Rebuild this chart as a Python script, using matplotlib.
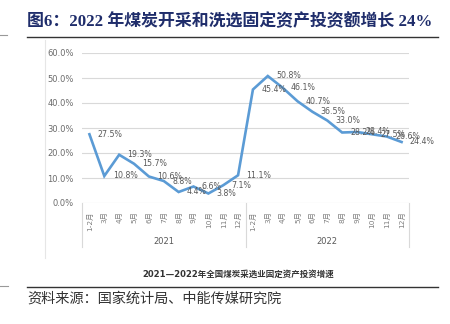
import matplotlib
matplotlib.use("Agg")
import matplotlib.pyplot as plt
from matplotlib.lines import Line2D
import matplotlib.transforms as mtransforms

plt.rcParams['font.family'] = ['DejaVu Sans', 'Noto Sans CJK SC']

# Monthly cumulative growth of fixed-asset investment in coal mining & washing (%)
months = ["1-2月", "3月", "4月", "5月", "6月", "7月", "8月", "9月", "10月", "11月", "12月"]
years = ["2021", "2022"]
growth_2021 = [27.5, 10.8, 19.3, 15.7, 10.6, 8.8, 4.4, 6.6, 3.8, 7.1, 11.1]
growth_2022 = [45.4, 50.8, 46.1, 40.7, 36.5, 33.0, 28.2, 28.4, 27.5, 26.6, 24.4]
y_ticks = [0, 10, 20, 30, 40, 50, 60]

title = "图6：2022 年煤炭开采和洗选固定资产投资额增长 24%"
caption = "2021—2022年全国煤炭采选业固定资产投资增速"
source = "资料来源：国家统计局、中能传媒研究院"

W, H = 450, 324
fig = plt.figure(figsize=(W / 100, H / 100), dpi=100)

def fx(px):
    return px / W

def fy(py):
    return 1 - py / H

values = growth_2021 + growth_2022
labels = months + months
xs = list(range(len(values)))

ax = fig.add_axes([fx(82), fy(203), fx(409) - fx(82), fy(53) - fy(203)])
ax.set_xlim(-0.5, len(values) - 0.5)
ax.set_ylim(0, 60)
for s in ax.spines.values():
    s.set_visible(False)

ax.set_yticks(y_ticks)
ax.set_yticklabels([f"{v:.1f}%" for v in y_ticks], fontsize=6, color="#6B6B6B")
ax.tick_params(axis="y", length=0, pad=6)
for v in y_ticks:
    ax.axhline(v, color="#D9D9D9", lw=0.8, zorder=0)

ax.set_xticks(xs)
ax.set_xticklabels(labels, rotation=90, fontsize=5.3, color="#7F7F7F", va="top")
ax.tick_params(axis="x", length=0, pad=6)

ax.plot(xs, values, color="#5B9BD5", lw=1.9, solid_joinstyle="miter", zorder=3)

for x, v in zip(xs, values):
    ax.annotate(f"{v:.1f}%", (x, v), xytext=(6, 0), textcoords="offset points",
                fontsize=5.7, color="#595959", va="center", ha="left", zorder=4)

# category axis frame and year groups
trans = mtransforms.blended_transform_factory(ax.transData, ax.transAxes)
low = -44 / 150
n = len(months)
for xb in [-0.5, n - 0.5, 2 * n - 0.5]:
    ax.add_line(Line2D([xb, xb], [0, low], transform=trans, color="#D9D9D9",
                       lw=0.8, clip_on=False))
for i, yr in enumerate(years):
    ax.text(i * n + (n - 1) / 2, -38 / 150, yr, transform=trans, ha="center",
            va="center", fontsize=6, color="#595959")

# faint chart frame edge
fig.add_artist(Line2D([fx(45), fx(45)], [fy(40), fy(258)], color="#E6E6E6", lw=0.8))

# header
fig.text(fx(27), fy(22), title, fontsize=12.2, fontweight="bold", color="#1F2D6B",
         family=["Liberation Serif", "Noto Sans CJK SC"], va="center", ha="left")
fig.add_artist(Line2D([fx(27), fx(438)], [fy(36.5), fy(36.5)], color="#333333", lw=1.0))
fig.add_artist(Line2D([fx(0), fx(7)], [fy(35), fy(35)], color="#999999", lw=0.8))

# caption and source
fig.text(fx(238), fy(274), caption, fontsize=6.1, fontweight="bold", color="#333333",
         family=["DejaVu Sans", "Noto Sans CJK SC"], ha="center", va="center")
fig.add_artist(Line2D([fx(27), fx(438)], [fy(287), fy(287)], color="#333333", lw=1.0))
fig.add_artist(Line2D([fx(0), fx(8)], [fy(286), fy(286)], color="#999999", lw=0.8))
fig.text(fx(27), fy(299), source, fontsize=10.2, color="#333333",
         family=["Noto Sans CJK SC"], ha="left", va="center")

fig.savefig("out.png", dpi=100)
